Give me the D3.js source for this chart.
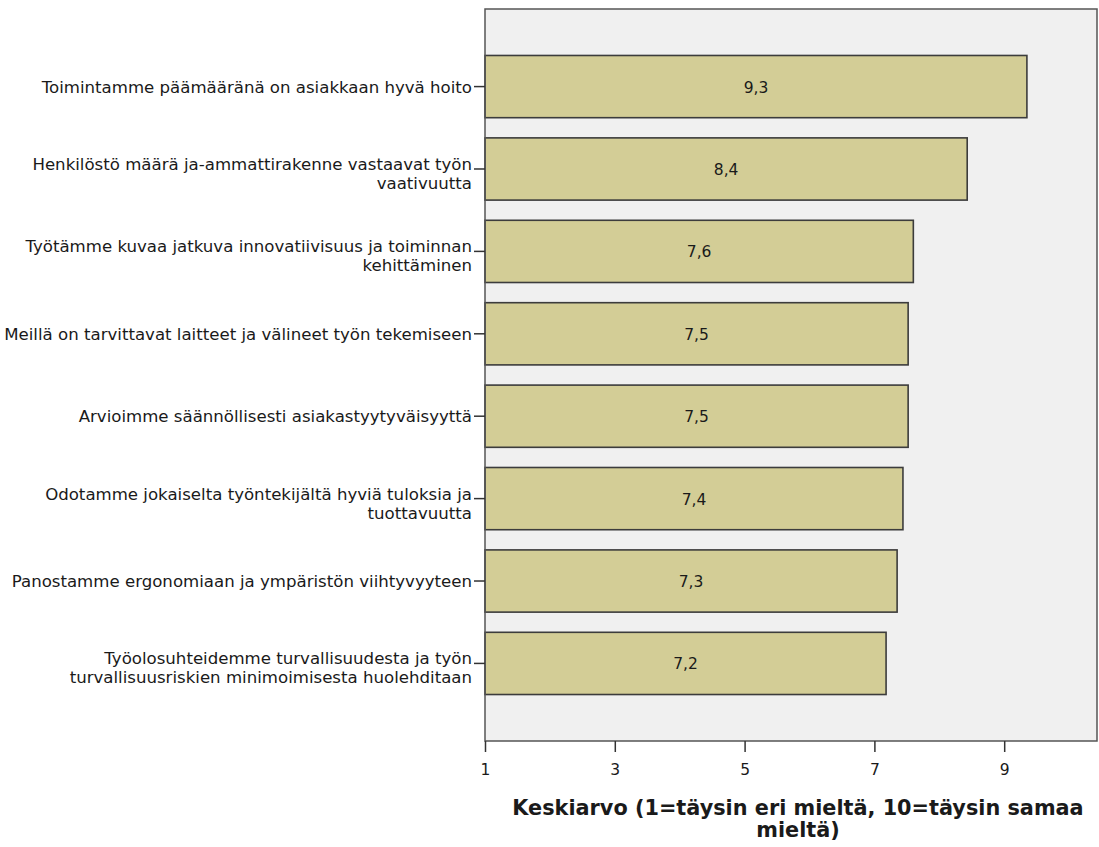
<!DOCTYPE html>
<html><head><meta charset="utf-8">
<script src="https://cdn.jsdelivr.net/npm/d3@7"></script>
<style>
html,body{margin:0;padding:0;background:#fff;}
text{font-family:"DejaVu Sans",Verdana,sans-serif;fill:#1a1a1a;}
</style></head>
<body><svg id="c" width="1099" height="847"></svg>
<script>
const categories = [
  ["Toimintamme päämääränä on asiakkaan hyvä hoito"],
  ["Henkilöstö määrä ja-ammattirakenne vastaavat työn", "vaativuutta"],
  ["Työtämme kuvaa jatkuva innovatiivisuus ja toiminnan", "kehittäminen"],
  ["Meillä on tarvittavat laitteet ja välineet työn tekemiseen"],
  ["Arvioimme säännöllisesti asiakastyytyväisyyttä"],
  ["Odotamme jokaiselta työntekijältä hyviä tuloksia ja", "tuottavuutta"],
  ["Panostamme ergonomiaan ja ympäristön viihtyvyyteen"],
  ["Työolosuhteidemme turvallisuudesta ja työn", "turvallisuusriskien minimoimisesta huolehditaan"]
];
const values = [9.35, 8.43, 7.60, 7.52, 7.52, 7.44, 7.35, 7.18];
const valueLabels = ["9,3", "8,4", "7,6", "7,5", "7,5", "7,4", "7,3", "7,2"];
const tickValues = [1, 3, 5, 7, 9];
const axisTitle = ["Keskiarvo (1=täysin eri mieltä, 10=täysin samaa", "mieltä)"];

const svg = d3.select("#c");
const L = 485, R = 1097, T = 9, B = 741;
const FS = 15.5, LFS = 16.6;
const idx = d3.range(values.length);
const x = d3.scaleLinear().domain([1, 10.43]).range([L, R]);
const y = d3.scaleBand().domain(idx).range([T, B]).paddingInner(0.245).paddingOuter(0.564);

svg.append("rect").attr("x", L).attr("y", T).attr("width", R - L).attr("height", B - T)
  .attr("fill", "#f0f0f0");

svg.append("g").selectAll("rect").data(idx).join("rect")
  .attr("x", x(1)).attr("y", i => y(i))
  .attr("width", i => x(values[i]) - x(1)).attr("height", y.bandwidth())
  .attr("fill", "#d3cd96").attr("stroke", "#3c3c3c").attr("stroke-width", 1.6);

svg.append("g").selectAll("text").data(idx).join("text")
  .attr("x", i => (x(1) + x(values[i])) / 2)
  .attr("y", i => y(i) + y.bandwidth() / 2 + 6)
  .attr("text-anchor", "middle").attr("font-size", FS)
  .text(i => valueLabels[i]);

// frame
svg.append("rect").attr("x", L).attr("y", T).attr("width", R - L).attr("height", B - T)
  .attr("fill", "none").attr("stroke", "#555").attr("stroke-width", 1.5);

// y category labels
const yg = svg.append("g");
idx.forEach(i => {
  const cy = y(i) + y.bandwidth() / 2;
  yg.append("line").attr("x1", 474).attr("x2", L).attr("y1", cy).attr("y2", cy)
    .attr("stroke", "#333").attr("stroke-width", 1.5);
  const lines = categories[i];
  lines.forEach((ln, k) => {
    const by = lines.length === 1 ? cy + 6 : cy + 1 + k * 19;
    yg.append("text").attr("x", 472).attr("y", by).attr("text-anchor", "end")
      .attr("font-size", LFS).text(ln);
  });
});

// x axis
const xAxis = d3.axisBottom(x).tickValues(tickValues).tickSize(11).tickFormat(d3.format("d"));
const xg = svg.append("g").attr("transform", `translate(0,${B})`).call(xAxis);
xg.select(".domain").remove();
xg.selectAll(".tick line").attr("stroke", "#333").attr("stroke-width", 1.5);
xg.selectAll(".tick text").attr("font-size", FS).attr("fill", "#1a1a1a")
  .attr("font-family", "DejaVu Sans, Verdana, sans-serif").attr("dy", null).attr("y", 34);

axisTitle.forEach((t, k) => {
  svg.append("text").attr("x", (L + R) / 2 + 7).attr("y", 815 + k * 22)
    .attr("text-anchor", "middle").attr("font-size", 20.8).attr("font-weight", "bold")
    .attr("fill", "#000").text(t);
});
</script></body></html>
